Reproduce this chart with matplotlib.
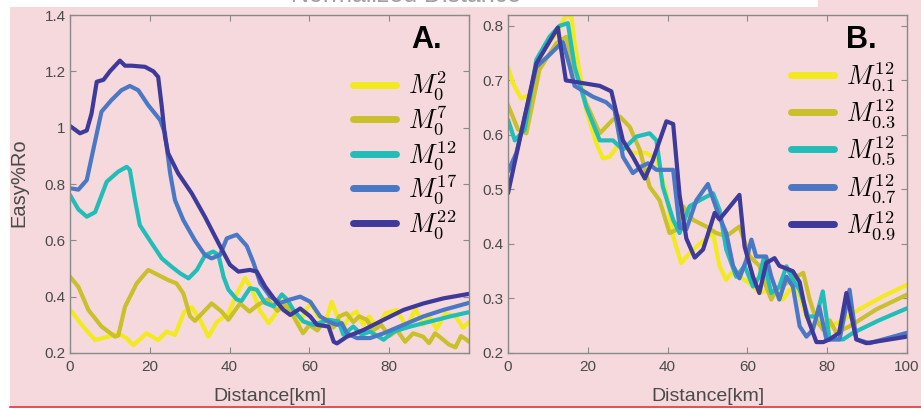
import matplotlib
matplotlib.use("Agg")
import matplotlib.pyplot as plt
from matplotlib.lines import Line2D
from matplotlib.patches import Rectangle

plt.rcParams['font.family'] = ['Liberation Sans', 'DejaVu Sans']
plt.rcParams['mathtext.fontset'] = 'cm'

# ---------------- Panel A: varying M0 exponent ----------------
a_m2_x = [0, 3.3, 6.3, 9.6, 12.1, 14.2, 15.9, 19.2, 22.1, 24.2, 26.3, 28.6, 30.5, 32.6, 34.7, 36.8,
          39.7, 41.8, 43.9, 45.6, 47.7, 49.8, 51.9, 53.6, 55.6, 57.3, 59, 60.5, 62, 64, 65.6, 67,
          68.5, 70, 71.8, 73.5, 75, 77, 79, 81.9, 84.4, 86.6, 88.5, 90, 91.9, 94, 96.6, 98.5, 100]
a_m2_y = [0.355, 0.294, 0.246, 0.258, 0.27, 0.252, 0.228, 0.27, 0.246, 0.276, 0.264, 0.345, 0.362, 0.318,
          0.258, 0.31, 0.34, 0.41, 0.466, 0.425, 0.348, 0.306, 0.348, 0.39, 0.348, 0.30, 0.35, 0.38,
          0.33, 0.31, 0.382, 0.33, 0.29, 0.33, 0.347, 0.30, 0.33, 0.29, 0.34, 0.353, 0.29, 0.357,
          0.30, 0.33, 0.285, 0.34, 0.33, 0.29, 0.31]

a_m7_x = [0, 2.1, 4.6, 7.9, 11.3, 12.1, 13.8, 16.7, 19.6, 22.1, 24.6, 26.7, 28.4, 30.1, 31.3, 33.4,
          35.5, 38, 39.7, 42.6, 45, 47, 49.5, 52, 54, 56, 58.4, 60, 62, 64, 66, 67.5, 69.3, 71,
          72.5, 74.4, 76, 78, 80, 82, 84, 86, 88.5, 90, 91.5, 93.3, 95, 96.6, 98, 99.1, 100]
a_m7_y = [0.471, 0.435, 0.353, 0.294, 0.258, 0.262, 0.365, 0.447, 0.495, 0.477, 0.459, 0.447, 0.412,
          0.33, 0.314, 0.345, 0.376, 0.347, 0.318, 0.376, 0.347, 0.37, 0.39, 0.35, 0.37, 0.33, 0.27,
          0.30, 0.28, 0.32, 0.29, 0.33, 0.341, 0.31, 0.33, 0.318, 0.28, 0.30, 0.26, 0.28, 0.24, 0.27,
          0.258, 0.235, 0.27, 0.25, 0.23, 0.22, 0.26, 0.25, 0.24]

a_m12_x = [0, 2.1, 4.2, 6.3, 9.2, 12.1, 14.2, 15, 16.3, 17.5, 20.5, 23, 25.5, 27.6, 29.7, 31.8, 33.9,
           35.9, 37.2, 38.5, 39.7, 41.8, 43, 45.1, 46.8, 48.9, 51, 53.1, 54.4, 56, 58.5, 61, 64.8,
           67.3, 68.5, 71, 73.1, 75.2, 78.6, 81.1, 85.3, 90.3, 95.3, 100]
a_m12_y = [0.761, 0.71, 0.684, 0.70, 0.808, 0.844, 0.861, 0.85, 0.743, 0.654, 0.589, 0.536, 0.506, 0.483,
           0.465, 0.495, 0.548, 0.56, 0.548, 0.47, 0.425, 0.39, 0.385, 0.43, 0.425, 0.378, 0.366,
           0.408, 0.39, 0.353, 0.312, 0.30, 0.318, 0.312, 0.265, 0.294, 0.265, 0.276, 0.247, 0.276,
           0.294, 0.312, 0.33, 0.345]

a_m17_x = [0, 2.1, 4.2, 5.8, 7.9, 10.4, 12.9, 15, 17.1, 19.6, 22.6, 23.8, 25.1, 26.3, 28.4, 31.3,
           33.8, 35.5, 37.6, 39.3, 41.8, 44.3, 46, 47.7, 50.2, 52.7, 55.2, 57.7, 60.2, 62.7, 65,
           66.9, 68.1, 69.4, 71.9, 75.2, 78.6, 83.6, 88.6, 93.6, 100]
a_m17_y = [0.785, 0.78, 0.814, 0.92, 1.057, 1.098, 1.133, 1.148, 1.133, 1.08, 1.027, 0.98, 0.838, 0.743,
           0.672, 0.60, 0.548, 0.536, 0.548, 0.607, 0.62, 0.58, 0.52, 0.448, 0.40, 0.378, 0.39, 0.40,
           0.382, 0.33, 0.31, 0.30, 0.306, 0.27, 0.253, 0.253, 0.27, 0.30, 0.33, 0.353, 0.378]

a_m22_x = [0, 2.5, 4.2, 5.4, 6.7, 8.4, 10, 12.5, 13.8, 15.5, 18.8, 20.9, 22.1, 23, 23.8, 24.6, 27.1,
           30.5, 33.8, 37.4, 40.1, 42.2, 45.1, 46.8, 48.9, 51.4, 53.5, 55.2, 57.7, 60.2, 61.9, 64.8,
           66.1, 66.9, 69.4, 73.6, 78.6, 83.6, 88.6, 93.6, 100]
a_m22_y = [1.006, 0.98, 0.99, 1.05, 1.163, 1.17, 1.2, 1.238, 1.22, 1.22, 1.216, 1.2, 1.18, 1.075, 0.968,
           0.909, 0.838, 0.767, 0.684, 0.585, 0.513, 0.489, 0.495, 0.489, 0.436, 0.388, 0.353, 0.335,
           0.358, 0.33, 0.30, 0.294, 0.24, 0.234, 0.258, 0.282, 0.318, 0.353, 0.376, 0.394, 0.41]

# ---------------- Panel B: varying fraction at exponent 12 ----------------
b_01_x = [0, 1.25, 3.3, 5.4, 8.8, 12.1, 14.6, 15.9, 16.7, 19.6, 22.1, 23.8, 25.5, 28, 31.3, 34.7,
          37.2, 39.7, 41.4, 43.4, 45.5, 48, 51.4, 53, 54.7, 56, 58, 60.6, 63, 65.6, 67.3, 68.9,
          70.6, 72.3, 74.8, 76.4, 78, 80.6, 84, 88, 94, 100]
b_01_y = [0.725, 0.695, 0.667, 0.673, 0.756, 0.786, 0.82, 0.817, 0.768, 0.646, 0.585, 0.557, 0.56,
          0.585, 0.567, 0.567, 0.555, 0.493, 0.414, 0.365, 0.383, 0.40, 0.42, 0.36, 0.334, 0.347,
          0.34, 0.328, 0.31, 0.316, 0.31, 0.298, 0.316, 0.322, 0.267, 0.246, 0.26, 0.249, 0.26,
          0.28, 0.304, 0.325]

b_03_x = [0, 2.5, 4.6, 7.9, 12.1, 14.6, 16.7, 19.6, 23, 26.3, 28, 30.5, 33, 35.5, 38, 40.5, 42.2,
          43.9, 46.4, 49.7, 52.2, 54.7, 58, 60.6, 63, 64.7, 66, 67.3, 69.8, 72.3, 74, 75.6, 77.3,
          78.9, 80.6, 82.3, 85.6, 92.3, 100]
b_03_y = [0.655, 0.61, 0.603, 0.72, 0.768, 0.78, 0.72, 0.658, 0.603, 0.628, 0.634, 0.615, 0.573, 0.505,
          0.48, 0.42, 0.426, 0.469, 0.444, 0.432, 0.42, 0.414, 0.432, 0.377, 0.36, 0.322, 0.298,
          0.316, 0.328, 0.34, 0.347, 0.298, 0.26, 0.243, 0.26, 0.237, 0.249, 0.28, 0.307]

b_05_x = [0, 1.7, 4.2, 7.1, 10.4, 12.9, 15, 16.7, 19.6, 23, 26.3, 28.8, 32.2, 35.5, 37.2, 38.8, 41.4,
          43, 45.5, 48, 51.4, 53, 54.7, 57.2, 59.3, 61.4, 63, 64, 66, 68, 69.8, 71.4, 73.1, 75.2,
          77.3, 78.9, 80.6, 84, 86.5, 93, 100]
b_05_y = [0.628, 0.59, 0.61, 0.738, 0.78, 0.80, 0.805, 0.725, 0.652, 0.59, 0.59, 0.573, 0.597, 0.603,
          0.59, 0.505, 0.444, 0.42, 0.469, 0.48, 0.493, 0.463, 0.39, 0.34, 0.36, 0.322, 0.34, 0.371,
          0.31, 0.322, 0.359, 0.334, 0.316, 0.267, 0.267, 0.313, 0.225, 0.225, 0.237, 0.26, 0.282]

b_07_x = [0, 2.1, 7.1, 10.4, 12.5, 13.8, 15.5, 16.7, 21.3, 24.6, 26.7, 28.8, 31.3, 33.4, 35.1, 37.2,
          41.4, 43, 44.7, 47.2, 50.1, 52.6, 54.7, 56.4, 58, 59.7, 61, 62.2, 64.7, 66, 68, 69.8,
          71.4, 73.1, 74.8, 76.4, 78, 79.8, 83.1, 85.6, 87.3, 90.6, 100]
b_07_y = [0.533, 0.567, 0.725, 0.747, 0.762, 0.77, 0.725, 0.69, 0.67, 0.66, 0.646, 0.56, 0.53, 0.542,
          0.548, 0.536, 0.536, 0.43, 0.427, 0.48, 0.51, 0.457, 0.42, 0.36, 0.337, 0.37, 0.408,
          0.377, 0.377, 0.34, 0.298, 0.34, 0.322, 0.249, 0.23, 0.243, 0.285, 0.225, 0.225, 0.316,
          0.225, 0.218, 0.237]

b_09_x = [0, 7.1, 12.5, 14.5, 16.3, 23, 25.9, 28.8, 31.3, 34.3, 36.3, 39.7, 41.4, 43, 44.7, 46.8,
          48.9, 51.8, 53, 58, 59.3, 61.4, 63, 64.7, 66.8, 68, 71.4, 73.1, 74.8, 77.3, 79, 80.6, 83,
          84.8, 87.3, 89.8, 100]
b_09_y = [0.493, 0.731, 0.797, 0.70, 0.698, 0.69, 0.68, 0.59, 0.56, 0.52, 0.554, 0.625, 0.62, 0.49,
          0.41, 0.375, 0.39, 0.457, 0.445, 0.49, 0.395, 0.34, 0.31, 0.365, 0.374, 0.36, 0.35, 0.33,
          0.27, 0.22, 0.22, 0.225, 0.237, 0.31, 0.225, 0.218, 0.23]

colors = ['#f2ea1f', '#c9c02b', '#22bdb8', '#4a78c4', '#3e3a9a']

labels_a = [r'$M_0^{2}$', r'$M_0^{7}$', r'$M_0^{12}$', r'$M_0^{17}$', r'$M_0^{22}$']
labels_b = [r'$M_{0.1}^{12}$', r'$M_{0.3}^{12}$', r'$M_{0.5}^{12}$', r'$M_{0.7}^{12}$', r'$M_{0.9}^{12}$']

series_a = [(a_m2_x, a_m2_y), (a_m7_x, a_m7_y), (a_m12_x, a_m12_y),
            (a_m17_x, a_m17_y), (a_m22_x, a_m22_y)]
series_b = [(b_01_x, b_01_y), (b_03_x, b_03_y), (b_05_x, b_05_y),
            (b_07_x, b_07_y), (b_09_x, b_09_y)]

ticks_a = [0.2, 0.4, 0.6, 0.8, 1.0, 1.2, 1.4]
ticklabels_a = ['0.2', '0.4', '0.6', '0.8', '1', '1.2', '1.4']
ticks_b = [0.2, 0.3, 0.4, 0.5, 0.6, 0.7, 0.8]
ticklabels_b = ['0.2', '0.3', '0.4', '0.5', '0.6', '0.7', '0.8']
xticks = [0, 20, 40, 60, 80, 100]

PINK = '#f6d9dc'
W, H = 921, 409

fig = plt.figure(figsize=(W / 100, H / 100), dpi=100, facecolor=PINK)

# white strips around the panel area
fig.patches.append(Rectangle((0, 1 - 7 / H), 818 / W, 7 / H, transform=fig.transFigure,
                             facecolor='white', edgecolor='none', zorder=0))
fig.patches.append(Rectangle((0, 0), 10 / W, 1, transform=fig.transFigure,
                             facecolor='white', edgecolor='none', zorder=0))
fig.patches.append(Rectangle((0, 0), 1, 1.2 / H, transform=fig.transFigure,
                             facecolor='white', edgecolor='none', zorder=0))
fig.lines.append(Line2D([10 / W, 1], [1.7 / H, 1.7 / H], transform=fig.transFigure,
                        color='#e23a3a', lw=1.2))
fig.text(406 / W, 1 - 2.5 / H, 'Normalized Distance', ha='center', va='baseline',
         fontsize=18, color='#a0a0a0')

ax_a = fig.add_axes([70 / W, 1 - 353 / H, 399 / W, 338 / H])
ax_b = fig.add_axes([508 / W, 1 - 353 / H, 399 / W, 338 / H])

SPINE = '#8a8a8a'
TXT = '#4a4a4a'


def style(ax, yt, ytl, ylim, xtl):
    ax.set_facecolor(PINK)
    ax.set_xlim(0, 100)
    ax.set_ylim(*ylim)
    ax.set_xticks(xticks)
    ax.set_xticklabels(xtl)
    ax.set_yticks(yt)
    ax.set_yticklabels(ytl)
    for s in ax.spines.values():
        s.set_color(SPINE)
        s.set_linewidth(1.0)
    ax.tick_params(direction='in', top=True, right=True, length=4, width=0.8,
                   color=SPINE, labelcolor=TXT, labelsize=11)
    ax.tick_params(axis='x', pad=5)
    ax.tick_params(axis='y', pad=3)
    ax.set_xlabel('Distance[km]', fontsize=14, color=TXT)
    ax.xaxis.set_label_coords(0.5, -0.103)
    ax.xaxis.label.set_va('top')


style(ax_a, ticks_a, ticklabels_a, (0.2, 1.4), ['0', '20', '40', '60', '80', ''])
style(ax_b, ticks_b, ticklabels_b, (0.2, 0.82), ['0', '20', '40', '60', '80', '100'])

ax_a.set_ylabel('Easy%Ro', fontsize=14.5, color=TXT)
ax_a.yaxis.set_label_coords(-0.105, 0.504)

for (x, y), c, lab in zip(series_a, colors, labels_a):
    ax_a.plot(x, y, color=c, lw=3.0, label=lab, solid_joinstyle='round', solid_capstyle='round')
for (x, y), c, lab in zip(series_b, colors, labels_b):
    ax_b.plot(x, y, color=c, lw=3.0, label=lab, solid_joinstyle='round', solid_capstyle='round')

leg_kw = dict(frameon=False, fontsize=19, handlelength=1.65, handletextpad=0.45,
              borderpad=0, borderaxespad=0, loc='upper left')
leg_a = ax_a.legend(bbox_to_anchor=(0.7085, 0.838), labelspacing=0.07, **leg_kw)
leg_b = ax_b.legend(bbox_to_anchor=(0.7085, 0.866), labelspacing=0.17, **leg_kw)
for leg in (leg_a, leg_b):
    for h in leg.legend_handles:
        h.set_linewidth(5)

ax_a.text(0.856, 0.902, 'A.', transform=ax_a.transAxes, fontsize=22, fontweight='bold',
          color='black', va='baseline', ha='left')
ax_b.text(0.847, 0.902, 'B.', transform=ax_b.transAxes, fontsize=22, fontweight='bold',
          color='black', va='baseline', ha='left')

fig.savefig('out.png', dpi=100, facecolor=PINK)
